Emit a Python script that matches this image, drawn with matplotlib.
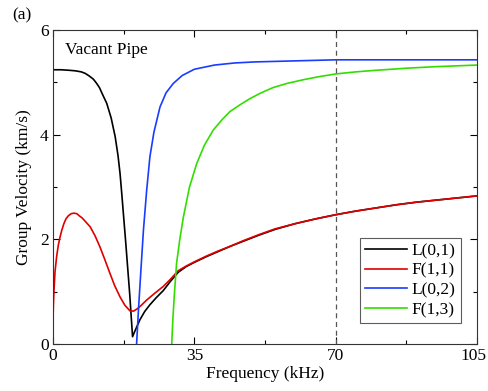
import matplotlib.pyplot as plt
from matplotlib.ticker import MultipleLocator

# L(0,1) - black
l01_f = [0, 2, 4, 5.5, 7, 8, 9, 10, 10.8, 11.5, 12.2, 13.3, 14.4, 15.4, 16.1, 16.6, 17,
         18, 19, 19.7, 20.3, 21.5, 22.7, 24, 25.5, 27.3, 29, 31, 33, 35, 38, 41, 44,
         47, 51, 55, 60, 65, 70, 75, 80, 85, 90, 95, 100, 105]
l01_v = [5.24, 5.24, 5.23, 5.22, 5.2, 5.17, 5.12, 5.06, 4.98, 4.9, 4.78, 4.6, 4.32,
         3.96, 3.6, 3.26, 2.9, 1.95, 0.95, 0.14, 0.25, 0.46, 0.62, 0.75, 0.88, 1.02,
         1.19, 1.37, 1.48, 1.56, 1.67, 1.77, 1.87, 1.96, 2.08, 2.19, 2.3, 2.39, 2.47,
         2.54, 2.6, 2.66, 2.71, 2.75, 2.79, 2.83]

# F(1,1) - red
f11_f = [0, 0.1, 0.25, 0.5, 0.9, 1.3, 1.7, 2.2, 2.7, 3.2, 3.8, 4.5, 5.2, 5.9, 6.5, 7.2,
         7.8, 8.5, 9.2, 10.4, 11.6, 12.8, 14.1, 15.3, 16.6, 17.8, 19.1, 20, 21, 22,
         23.2, 25.2, 27.3, 29, 31, 33, 35, 38, 41, 44, 47, 51, 55, 60, 65, 70, 75, 80,
         85, 90, 95, 100, 105]
f11_v = [0.45, 0.75, 1.03, 1.38, 1.67, 1.88, 2.03, 2.18, 2.3, 2.39, 2.45, 2.49, 2.5,
         2.49, 2.45, 2.41, 2.36, 2.3, 2.24, 2.07, 1.86, 1.62, 1.35, 1.11, 0.9, 0.74,
         0.63, 0.63, 0.68, 0.75, 0.84, 0.97, 1.1, 1.23, 1.4, 1.49, 1.57, 1.68, 1.78,
         1.87, 1.97, 2.09, 2.2, 2.3, 2.39, 2.47, 2.54, 2.6, 2.66, 2.71, 2.75, 2.79,
         2.83]

# L(0,2) - blue
l02_f = [20.7, 21.2, 21.8, 22.4, 23.2, 24, 25, 26.5, 28, 29.8, 32, 35, 40, 45, 50, 60,
         70, 80, 90, 105]
l02_v = [0, 0.7, 1.45, 2.18, 2.94, 3.58, 4.05, 4.53, 4.8, 4.98, 5.13, 5.25, 5.33,
         5.37, 5.39, 5.41, 5.43, 5.43, 5.43, 5.43]

# F(1,3) - green
f13_f = [29.4, 29.7, 30.1, 30.6, 31.4, 32.3, 33.8, 35.6, 37.5, 39.7, 41.8, 43.8, 46.3,
         48.8, 51.3, 54.5, 58, 62, 66, 70, 75, 80, 87.6, 95, 105]
f13_v = [0, 0.5, 1.0, 1.54, 2.0, 2.43, 3.0, 3.45, 3.8, 4.09, 4.28, 4.44, 4.57, 4.69,
         4.79, 4.9, 4.98, 5.05, 5.11, 5.16, 5.2, 5.23, 5.27, 5.3, 5.33]

xticks = [0, 35, 70, 105]

plt.rcParams['font.family'] = ['Liberation Serif', 'DejaVu Serif']
plt.rcParams['font.size'] = 12.5

fig = plt.figure(figsize=(4.88, 3.91), dpi=100)
ax = fig.add_axes([0.1086, 0.1202, 0.8689, 0.8031])

lw = 1.2
ax.plot(l01_f, l01_v, color='black', lw=lw, label='L(0,1)')
ax.plot(f11_f, f11_v, color='#e00000', lw=lw, label='F(1,1)')
ax.plot(l02_f, l02_v, color='#1a3cff', lw=lw, label='L(0,2)')
ax.plot(f13_f, f13_v, color='#33dd00', lw=lw, label='F(1,3)')

ax.axvline(70, color='#555555', lw=0.9, ls=(0, (4, 3)))

ax.set_xlim(0, 105)
ax.set_ylim(0, 6)
# last label is drawn separately, nudged left so it stays inside the figure
ax.set_xticks(xticks, [str(t) for t in xticks[:-1]] + [''])
ax.annotate(str(xticks[-1]), xy=(xticks[-1], 0), xycoords=('data', 'axes fraction'),
            xytext=(-2.5, -3), textcoords='offset points', ha='center', va='top')
ax.xaxis.set_minor_locator(MultipleLocator(17.5))
ax.yaxis.set_major_locator(MultipleLocator(2))
ax.yaxis.set_minor_locator(MultipleLocator(1))
ax.tick_params(which='both', direction='in', top=True, right=True, width=0.8)
ax.tick_params(which='major', length=5, pad=3)
ax.tick_params(which='minor', length=3)
for s in ax.spines.values():
    s.set_color('#333333')

ax.set_xlabel('Frequency (kHz)', labelpad=1)
ax.set_ylabel('Group Velocity (km/s)', labelpad=6)

ax.text(3, 5.62, 'Vacant Pipe', va='center', ha='left')
fig.text(0.025, 0.96, '(a)', va='center', ha='left')

leg = ax.legend(loc='lower right', bbox_to_anchor=(0.962, 0.066), fancybox=False,
                handlelength=2.4, handletextpad=0.3, borderpad=0.3, labelspacing=0.2,
                borderaxespad=0)
leg.get_frame().set_edgecolor('#333333')
leg.get_frame().set_linewidth(0.8)

fig.savefig('out.png', dpi=100)
